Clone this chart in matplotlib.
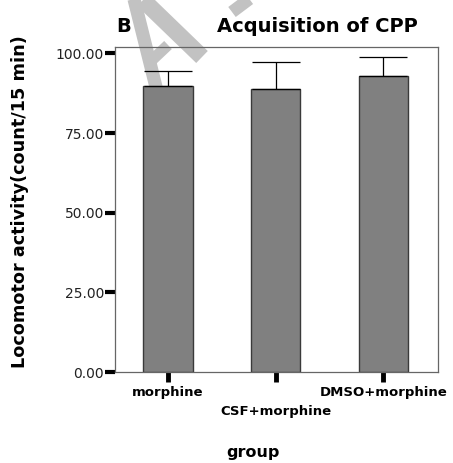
import matplotlib
matplotlib.use("Agg")
import matplotlib.pyplot as plt
import matplotlib.transforms as mtransforms
from matplotlib.lines import Line2D

groups = ["morphine", "CSF+morphine", "DMSO+morphine"]
means = [89.9, 88.8, 92.9]
errors = [4.7, 8.4, 5.9]
yticks = [0.0, 25.0, 50.0, 75.0, 100.0]

W, H = 453, 463
fig = plt.figure(figsize=(W / 100, H / 100), dpi=100)
plt.rcParams['font.family'] = ['DejaVu Sans']

# faint watermark strokes (background)
def px(x, y):
    return x / W, 1 - y / H
wm = [((133, -5), (158, 95), 9.5), ((143, 0), (202, 57), 12), ((252, -3), (232, 12), 9), ((168, 45), (150, 62), 8)]
for (a, b, lw) in wm:
    (x0, y0), (x1, y1) = px(*a), px(*b)
    fig.add_artist(Line2D([x0, x1], [y0, y1], transform=fig.transFigure, color='#c2c2c2',
                          linewidth=lw, solid_capstyle='butt', zorder=0))

ax = fig.add_axes([115 / W, 1 - 372 / H, (438 - 115) / W, (372 - 47) / H])
ax.set_facecolor('none')
ax.set_zorder(1)

x = list(range(len(groups)))
ax.bar(x, means, width=0.455, color='#808080', edgecolor='#3a3a3a', linewidth=1.0, zorder=2)
ax.errorbar(x, means, yerr=[[0] * len(errors), errors], fmt='none', ecolor='black',
            elinewidth=0.9, capsize=17.6, capthick=0.9, zorder=3)

ax.set_xlim(-0.492, 2.506)
ax.set_ylim(0, 102.0)
ax.set_yticks(yticks)
ax.set_yticklabels([f"{v:.2f}" for v in yticks], fontsize=10, color='#222222')
ax.set_xticks(x)
ax.set_xticklabels(groups, fontsize=9.5, fontweight='bold')
ax.tick_params(axis='y', direction='out', length=7, width=3, color='black', pad=1)
ax.tick_params(axis='x', direction='out', length=7, width=3.5, color='black', pad=3)

lab = ax.get_xticklabels()[1]
lab.set_transform(lab.get_transform() + mtransforms.ScaledTranslation(0, -19 / 100, fig.dpi_scale_trans))

for s in ax.spines.values():
    s.set_color('#666666')
    s.set_linewidth(0.9)

fig.text(317 / W, 1 - 26 / H, "Acquisition of CPP", ha='center', va='center', fontsize=14, fontweight='bold')
fig.text(116 / W, 1 - 26 / H, "B", ha='left', va='center', fontsize=14, fontweight='bold')
fig.text(20 / W, 1 - 202 / H, "Locomotor activity(count/15 min)", ha='center', va='center',
         rotation=90, fontsize=12.7, fontweight='bold')
fig.text(253 / W, 1 - 452 / H, "group", ha='center', va='center', fontsize=11.5, fontweight='bold')

fig.savefig("out.png", dpi=100)
